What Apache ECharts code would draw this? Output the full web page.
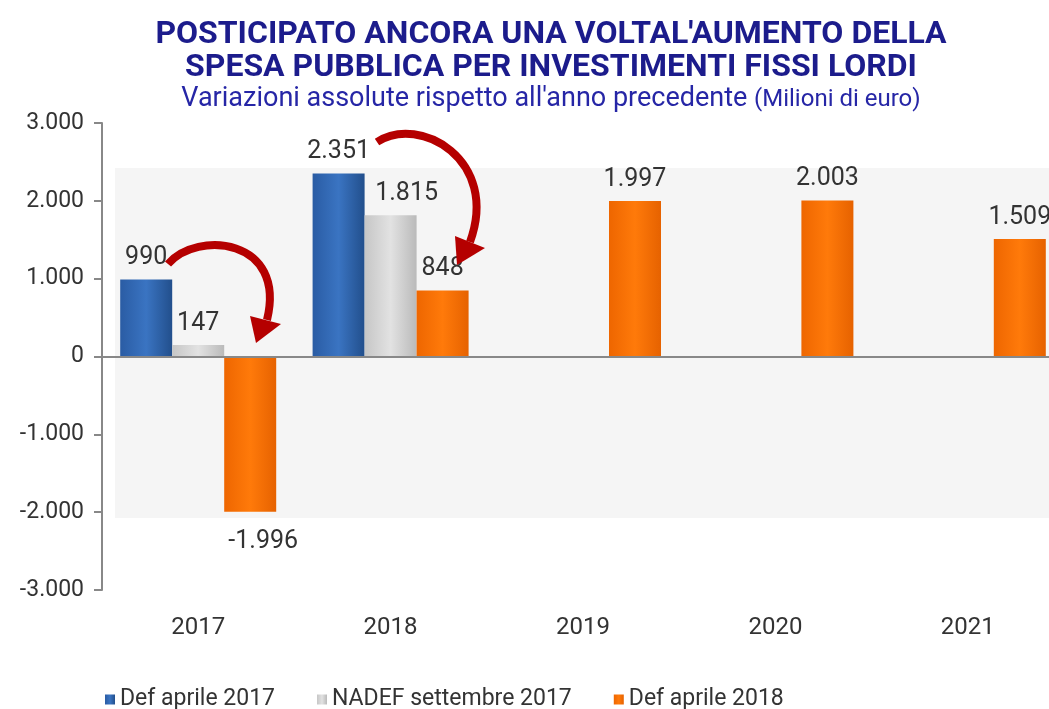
<!DOCTYPE html>
<html>
<head>
<meta charset="utf-8">
<script src="https://cdn.jsdelivr.net/npm/echarts@6/dist/echarts.min.js"></script>
<style>
  html, body { margin: 0; padding: 0; background: #fff; overflow: hidden; }
  /* the original plot runs past the right edge of the picture */
  #chart { width: 1072px; height: 709px; }
</style>
</head>
<body>
<div id="chart"></div>
<script>
// data
var years = ['2017', '2018', '2019', '2020', '2021'];
var seriesNames = ['Def aprile 2017', 'NADEF settembre 2017', 'Def aprile 2018'];
var defApr2017 = [990, 2351, null, null, null];
var nadefSet2017 = [147, 1815, null, null, null];
var defApr2018 = [-1996, 848, 1997, 2003, 1509];

function itFmt(v) {
  var s = String(Math.abs(v)).replace(/\B(?=(\d{3})+(?!\d))/g, '.');
  return (v < 0 ? '-' : '') + s;
}
function grad(c1, c2, c3) {
  return new echarts.graphic.LinearGradient(0, 0, 1, 0, [
    { offset: 0, color: c1 }, { offset: 0.5, color: c2 }, { offset: 1, color: c3 }
  ]);
}

var FONT = 'Roboto, "Liberation Sans", sans-serif';
var RED = '#b50000';
var chart = echarts.init(document.getElementById('chart'), null, { renderer: 'canvas' });

var labelBase = { show: true, position: 'top', fontFamily: FONT, fontSize: 25, color: '#333', distance: 9,
  formatter: function (p) { return p.value == null ? '' : itFmt(p.value); } };

// a couple of labels sit off-centre in the original
var nadefData = nadefSet2017.map(function (v, i) {
  return i === 1 ? { value: v, label: { offset: [16, 0] } } : v;
});
var def18Data = defApr2018.map(function (v, i) {
  return v < 0 ? { value: v, label: { position: 'bottom', distance: 17, offset: [13, 0] } } : v;
});

chart.setOption({
  animation: false,
  backgroundColor: '#fff',
  title: {
    text: "POSTICIPATO ANCORA UNA VOLTAL'AUMENTO DELLA\nSPESA PUBBLICA PER INVESTIMENTI FISSI LORDI",
    left: 546, top: 13, textAlign: 'center',
    textStyle: { fontFamily: FONT, fontSize: 32, fontWeight: 'bold', color: '#1c1c8c', lineHeight: 33 },
    subtext: '{a|Variazioni assolute rispetto all\'anno precedente}  {b|(Milioni di euro)}',
    itemGap: 2,
    subtextStyle: {
      rich: {
        a: { fontFamily: FONT, fontSize: 27, color: '#2626a6' },
        b: { fontFamily: FONT, fontSize: 24, color: '#2626a6' }
      }
    }
  },
  legend: {
    left: 100, top: 683, itemWidth: 10, itemHeight: 10, itemGap: 42, icon: 'rect',
    textStyle: { fontFamily: FONT, fontSize: 23, color: '#333' },
    data: seriesNames
  },
  graphic: [
    { type: 'rect', z: -10, shape: { x: 115, y: 168, width: 960, height: 350 }, style: { fill: '#f5f5f5' } },
    // annotation arrows
    { type: 'bezierCurve', z: 100, shape: { x1: 168, y1: 264, cpx1: 197, cpy1: 230, cpx2: 287, cpy2: 238, x2: 267, y2: 320 },
      style: { stroke: RED, lineWidth: 8, fill: null } },
    { type: 'polygon', z: 100, shape: { points: [[256, 343], [250, 316], [281, 324]] }, style: { fill: RED } },
    { type: 'bezierCurve', z: 100, shape: { x1: 377, y1: 142, cpx1: 420, cpy1: 114, cpx2: 500, cpy2: 160, x2: 470, y2: 242 },
      style: { stroke: RED, lineWidth: 8, fill: null } },
    { type: 'polygon', z: 100, shape: { points: [[457, 265], [455, 236], [485, 248]] }, style: { fill: RED } }
  ],
  grid: { left: 102, top: 123, width: 962, height: 467, containLabel: false },
  xAxis: {
    type: 'category', data: years,
    axisLine: { show: false, onZero: false },
    axisTick: { show: false },
    axisLabel: { margin: 26, fontFamily: FONT, fontSize: 24, color: '#333' }
  },
  yAxis: {
    type: 'value', min: -3000, max: 3000, interval: 1000,
    axisLine: { show: true, lineStyle: { color: '#888', width: 2 } },
    axisTick: { show: true, length: 8, lineStyle: { color: '#888', width: 2 } },
    splitLine: { show: false },
    axisLabel: { margin: 18, fontFamily: FONT, fontSize: 23, color: '#333', formatter: itFmt }
  },
  series: [
    {
      name: seriesNames[0], type: 'bar', data: defApr2017, barWidth: 52, barGap: '0%',
      itemStyle: { color: grad('#2a5ca4', '#3a74c2', '#224f8c') },
      label: labelBase,
      markLine: { silent: true, symbol: 'none', label: { show: false },
        lineStyle: { color: '#888', width: 2, type: 'solid' }, data: [{ yAxis: 0 }] }
    },
    {
      name: seriesNames[1], type: 'bar', data: nadefData, barWidth: 52, barGap: '0%',
      itemStyle: { color: grad('#c6c6c6', '#e2e2e2', '#bababa') },
      label: labelBase
    },
    {
      name: seriesNames[2], type: 'bar', data: def18Data, barWidth: 52, barGap: '0%',
      itemStyle: { color: grad('#ee6600', '#ff7a0a', '#e66200') },
      label: labelBase
    }
  ]
});
window.addEventListener('resize', function () { chart.resize(); });
</script>
</body>
</html>
